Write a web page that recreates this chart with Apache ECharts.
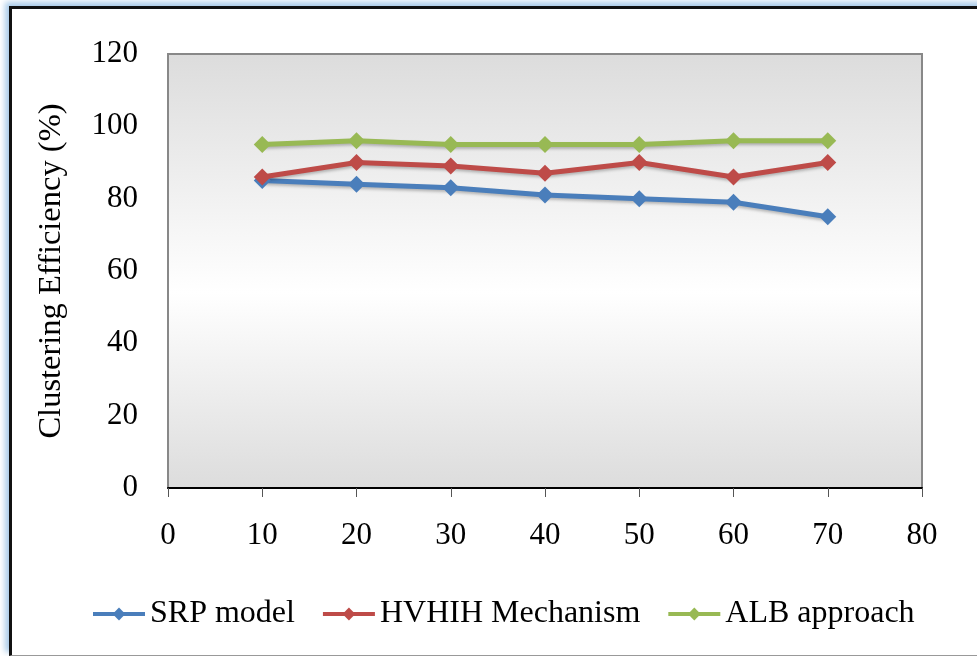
<!DOCTYPE html>
<html><head><meta charset="utf-8">
<script src="https://cdn.jsdelivr.net/npm/echarts@6/dist/echarts.min.js"></script>
<style>
html,body{margin:0;padding:0;background:#fff;}
#wrap{position:relative;width:977px;height:656px;overflow:hidden;background:#fff;}
#frame{position:absolute;left:9px;top:6px;width:1000px;height:646px;border-left:3px solid #111;border-top:3px solid #111;border-bottom:1px solid #999;box-shadow:-4px -4px 6px #a9cbe9;}
#chart{position:absolute;left:0;top:0;width:977px;height:656px;}
</style></head>
<body><div id="wrap"><div id="frame"></div><div id="chart"></div></div>
<script>
const xValues = [10, 20, 30, 40, 50, 60, 70];
const srpModel = [85, 84, 83, 81, 80, 79, 75];
const hvhihMechanism = [86, 90, 89, 87, 90, 86, 90];
const albApproach = [95, 96, 95, 95, 95, 96, 96];
const seriesNames = ['SRP model', 'HVHIH Mechanism', 'ALB approach'];
const colors = ['#4a7ebb', '#be4b48', '#98b954'];
const yTitle = 'Clustering Efficiency (%)';

const font = 'Liberation Serif, Times New Roman, serif';
const chart = echarts.init(document.getElementById('chart'), null, {renderer: 'canvas'});
function pairs(arr){ return xValues.map((x,i)=>[x, arr[i]]); }
const dataSets = [srpModel, hvhihMechanism, albApproach];
chart.setOption({
  animation: false,
  backgroundColor: 'transparent',
  grid: {left: 168, right: 55, top: 54, bottom: 168, show: true,
    borderColor: '#888', borderWidth: 2,
    backgroundColor: new echarts.graphic.LinearGradient(0,0,0,1,[
      {offset:0,color:'#dcdcdc'},{offset:0.55,color:'#ffffff'},{offset:1,color:'#dcdcdc'}])},
  legend: {bottom: 21, left: 86, itemWidth: 52, itemHeight: 16, itemGap: 26,
    lineStyle: {width: 4},
    textStyle: {fontFamily: font, fontSize: 32, color: '#000'}, data: seriesNames},
  xAxis: {type: 'value', min: 0, max: 80, interval: 10,
    axisLine: {show: true, lineStyle: {color: '#000', width: 2}},
    axisTick: {show: true, length: 9, lineStyle: {color: '#555'}},
    splitLine: {show: false},
    axisLabel: {margin: 32, fontFamily: font, fontSize: 31, color: '#000'}},
  yAxis: {type: 'value', min: 0, max: 120, interval: 20,
    name: yTitle, nameLocation: 'middle', nameGap: 100,
    nameTextStyle: {fontFamily: font, fontSize: 32.5, color: '#000'},
    axisLine: {show: true, lineStyle: {color: '#888', width: 2}},
    axisTick: {show: false}, splitLine: {show: false},
    axisLabel: {margin: 30, fontFamily: font, fontSize: 31, color: '#000'}},
  series: seriesNames.map((n,i)=>({
    name: n, type: 'line', data: pairs(dataSets[i]),
    symbol: 'diamond', symbolSize: 17,
    lineStyle: {color: colors[i], width: 5, shadowColor: 'rgba(0,0,0,0.25)', shadowBlur: 3, shadowOffsetY: 2},
    itemStyle: {color: colors[i]}
  }))
});
</script></body></html>
